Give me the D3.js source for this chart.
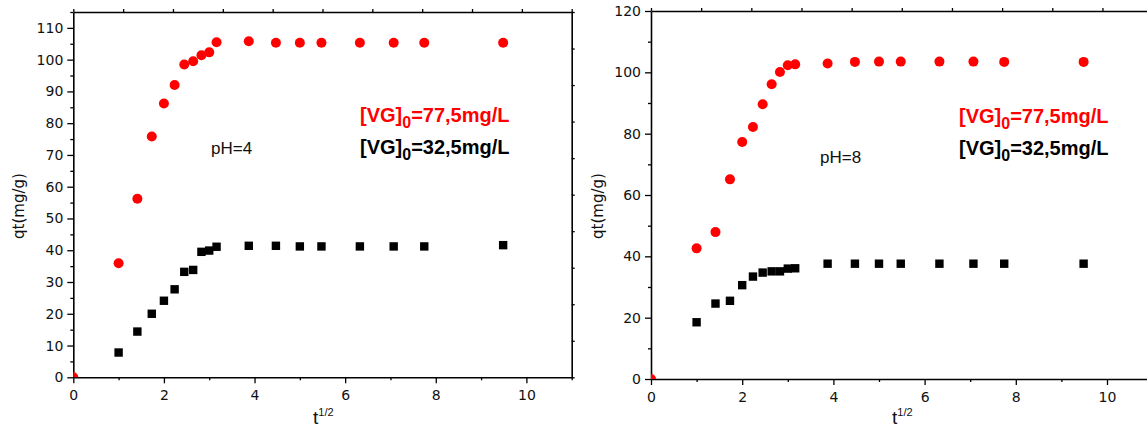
<!DOCTYPE html>
<html>
<head>
<meta charset="utf-8">
<script src="https://cdn.jsdelivr.net/npm/d3@7"></script>
<style>
body { margin: 0; background: #fff; }
svg text { font-family: "Liberation Sans", Arial, sans-serif; }
.tick text { font-family: "DejaVu Sans", sans-serif; font-size: 14px; fill: #111; }
</style>
</head>
<body>
<svg id="chart" width="1147" height="439"></svg>
<script>
// t^(1/2) values, same sampling in both runs
var tRoot = [0, 1, 1.414, 1.732, 2, 2.236, 2.449, 2.646, 2.828, 3, 3.162, 3.873, 4.472, 5, 5.477, 6.325, 7.071, 7.746, 9.487];

// pH=4 : qt (mg/g)
var ph4Red = [0, 35.9, 56.2, 75.8, 86.2, 92.0, 98.5, 99.5, 101.4, 102.3, 105.5, 105.8, 105.3, 105.3, 105.3, 105.3, 105.3, 105.3, 105.3];
var ph4Black = [null, 7.8, 14.4, 20.0, 24.1, 27.7, 33.2, 33.8, 39.5, 39.9, 41.1, 41.4, 41.4, 41.2, 41.2, 41.2, 41.2, 41.2, 41.6];

// pH=8 : qt (mg/g)
var ph8Red = [0, 42.6, 47.9, 65.1, 77.3, 82.2, 89.6, 96.1, 100.1, 102.3, 102.6, 102.9, 103.4, 103.5, 103.5, 103.5, 103.5, 103.4, 103.4];
var ph8Black = [null, 18.5, 24.6, 25.5, 30.6, 33.4, 34.7, 35.1, 35.1, 36.0, 36.1, 37.6, 37.6, 37.6, 37.6, 37.6, 37.6, 37.6, 37.6];

var xMajor = [0, 2, 4, 6, 8, 10];
var xMinor = [1, 3, 5, 7, 9, 11];
var ph4YMajor = [0, 10, 20, 30, 40, 50, 60, 70, 80, 90, 100, 110];
var ph4YMinor = [5, 15, 25, 35, 45, 55, 65, 75, 85, 95, 105, 115];
var ph8YMajor = [0, 20, 40, 60, 80, 100, 120];
var ph8YMinor = [10, 30, 50, 70, 90, 110];

var redLabel = "=77,5mg/L";
var blackLabel = "=32,5mg/L";

var svg = d3.select("#chart");

var drawPanel = function(cfg) {
    var g = svg.append("g");
    var x = d3.scaleLinear().domain([0, 11]).range([cfg.left, cfg.right]);
    var y = d3.scaleLinear().domain([0, cfg.yMax]).range([cfg.bottom, cfg.top]);
    // top / right axes are just split into 10 equal parts
    var xTop = d3.scaleLinear().domain([0, 10]).range([cfg.left, cfg.right]);
    var yRight = d3.scaleLinear().domain([0, 10]).range([cfg.bottom, cfg.top]);

    g.append("clipPath").attr("id", cfg.id + "-clip")
        .append("rect")
        .attr("x", cfg.left).attr("y", cfg.top)
        .attr("width", cfg.right - cfg.left).attr("height", cfg.bottom - cfg.top);

    // minor ticks first
    g.append("g").attr("transform", "translate(0," + cfg.bottom + ")")
        .call(d3.axisBottom(x).tickValues(xMinor).tickSize(3).tickFormat(""))
        .call(function(s) { s.select(".domain").remove(); });
    g.append("g").attr("transform", "translate(" + cfg.left + ",0)")
        .call(d3.axisLeft(y).tickValues(cfg.yMinor).tickSize(3).tickFormat(""))
        .call(function(s) { s.select(".domain").remove(); });

    // top and right frame
    g.append("g").attr("transform", "translate(0," + cfg.top + ")")
        .call(d3.axisTop(xTop).ticks(10).tickSize(3).tickSizeOuter(0).tickFormat(""));
    g.append("g").attr("transform", "translate(" + cfg.right + ",0)")
        .call(d3.axisRight(yRight).ticks(10).tickSize(3).tickSizeOuter(0).tickFormat(""));

    // main axes
    g.append("g").attr("transform", "translate(0," + cfg.bottom + ")")
        .call(d3.axisBottom(x).tickValues(xMajor).tickSize(6).tickSizeOuter(0).tickPadding(7).tickFormat(d3.format("d")));
    g.append("g").attr("transform", "translate(" + cfg.left + ",0)")
        .call(d3.axisLeft(y).tickValues(cfg.yMajor).tickSize(6).tickSizeOuter(0).tickPadding(4).tickFormat(d3.format("d")));

    g.selectAll(".domain").attr("stroke", "#000").attr("stroke-width", 1.6);
    g.selectAll(".tick line").attr("stroke", "#000").attr("stroke-width", 1.3);

    var plot = g.append("g").attr("clip-path", "url(#" + cfg.id + "-clip)");

    plot.selectAll("rect.sq")
        .data(tRoot.map(function(t, i) { return [t, cfg.black[i]]; }).filter(function(d) { return d[1] != null; }))
        .enter()
        .append("rect")
        .attr("class", "sq")
        .attr("x", function(d) { return x(d[0]) - 4.2; })
        .attr("y", function(d) { return y(d[1]) - 4.2; })
        .attr("width", 8.4).attr("height", 8.4)
        .attr("fill", "#000");

    plot.selectAll("circle")
        .data(tRoot.map(function(t, i) { return [t, cfg.red[i]]; }))
        .enter()
        .append("circle")
        .attr("cx", function(d) { return x(d[0]); })
        .attr("cy", function(d) { return y(d[1]); })
        .attr("r", 5)
        .attr("fill", "#f00");

    // axis titles
    g.append("text")
        .attr("transform", "translate(" + cfg.yTitleX + ",206) rotate(-90)")
        .attr("text-anchor", "middle")
        .style("font-family", "'DejaVu Sans', sans-serif")
        .style("font-size", "15px")
        .attr("fill", "#111")
        .text("qt(mg/g)");

    var xt = g.append("text")
        .attr("x", cfg.xTitleX).attr("y", 424)
        .style("font-size", "19px")
        .attr("fill", "#111");
    xt.append("tspan").text("t");
    xt.append("tspan").attr("dy", -8).style("font-size", "11px").text("1/2");

    // pH note
    g.append("text")
        .attr("x", cfg.phX).attr("y", cfg.phY)
        .style("font-size", "17px")
        .attr("fill", "#111")
        .text(cfg.ph);

    // concentration labels
    [[redLabel, "#f00", cfg.legY], [blackLabel, "#000", cfg.legY + 32]].forEach(function(l) {
        var t = g.append("text")
            .attr("x", cfg.legX).attr("y", l[2])
            .style("font-size", "20px")
            .style("font-weight", "bold")
            .attr("fill", l[1]);
        t.append("tspan").text("[VG]");
        t.append("tspan").attr("dy", 6).style("font-size", "16px").text("0");
        t.append("tspan").attr("dy", -6).text(l[0]);
    });
};

drawPanel({
    id: "ph4", left: 73.3, right: 571.7, top: 12, bottom: 377.3,
    yMax: 115, yMajor: ph4YMajor, yMinor: ph4YMinor,
    red: ph4Red, black: ph4Black,
    yTitleX: 24, xTitleX: 313, ph: "pH=4", phX: 211, phY: 154,
    legX: 360, legY: 122
});

drawPanel({
    id: "ph8", left: 651, right: 1152.6, top: 11, bottom: 379,
    yMax: 120, yMajor: ph8YMajor, yMinor: ph8YMinor,
    red: ph8Red, black: ph8Black,
    yTitleX: 603, xTitleX: 892, ph: "pH=8", phX: 820, phY: 163,
    legX: 959, legY: 123
});
</script>
</body>
</html>
